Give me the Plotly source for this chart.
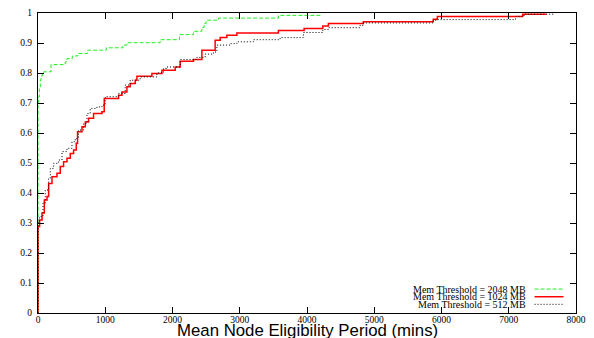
import plotly.graph_objects as go

# Mem Threshold = 2048 MB (CDF step points)
x_2048 = [0, 0, 10, 20, 34, 45, 64, 84, 193, 405, 430, 510, 594, 737, 1015, 1262, 1322,
          1817, 2104, 2312, 2437, 2470, 2500, 2684, 3575, 4220]
y_2048 = [0, 0.70, 0.72, 0.75, 0.776, 0.79, 0.80, 0.804, 0.828, 0.837, 0.848, 0.857, 0.865,
          0.876, 0.884, 0.893, 0.901, 0.911, 0.928, 0.939, 0.952, 0.965, 0.976, 0.983, 0.992, 0.993]

# Mem Threshold = 1024 MB
x_1024 = [0, 0, 24, 60, 94, 134, 158, 208, 282, 331, 380, 431, 480, 529, 569, 588, 654, 703,
          752, 826, 951, 985, 1198, 1248, 1322, 1371, 1446, 1471, 1694, 1843, 2040, 2114, 2312,
          2437, 2634, 2709, 2808, 2957, 3575, 3957, 4235, 4318, 4838, 5878, 5938, 7207, 7560]
y_1024 = [0, 0.288, 0.31, 0.333, 0.377, 0.388, 0.432, 0.454, 0.466, 0.488, 0.504, 0.516, 0.532,
          0.543, 0.566, 0.604, 0.621, 0.637, 0.649, 0.665, 0.671, 0.715, 0.726, 0.737, 0.754,
          0.765, 0.776, 0.789, 0.798, 0.809, 0.820, 0.839, 0.845, 0.876, 0.909, 0.918, 0.926,
          0.933, 0.942, 0.948, 0.957, 0.965, 0.971, 0.979, 0.988, 0.996, 0.996]

# Mem Threshold = 512 MB
x_512 = [0, 0, 20, 74, 108, 158, 183, 232, 306, 357, 431, 505, 554, 603, 678, 728, 777, 877,
         951, 1000, 1198, 1297, 1371, 1520, 1768, 1866, 1916, 2114, 2362, 2486, 2609, 2660,
         2857, 2957, 3204, 3600, 3947, 4235, 4318, 4790, 4838, 5878, 5950, 7100, 7227, 7670]
y_512 = [0, 0.30, 0.321, 0.366, 0.41, 0.449, 0.482, 0.499, 0.510, 0.538, 0.549, 0.571, 0.582,
         0.610, 0.632, 0.665, 0.682, 0.687, 0.693, 0.721, 0.732, 0.760, 0.776, 0.787, 0.800,
         0.815, 0.820, 0.845, 0.852, 0.863, 0.870, 0.893, 0.898, 0.904, 0.911, 0.918, 0.935,
         0.945, 0.951, 0.959, 0.967, 0.976, 0.978, 0.989, 0.996, 0.996]

series_names = ["Mem Threshold = 2048 MB", "Mem Threshold = 1024 MB", "Mem Threshold = 512 MB"]
x_ticks = [0, 1000, 2000, 3000, 4000, 5000, 6000, 7000, 8000]
y_ticks = [0, 0.1, 0.2, 0.3, 0.4, 0.5, 0.6, 0.7, 0.8, 0.9, 1]
y_ticktext = ["0", "0.1", "0.2", "0.3", "0.4", "0.5", "0.6", "0.7", "0.8", "0.9", "1"]
x_title = "Mean Node Eligibility Period (mins)"

styles = [
    dict(color="#22ee22", width=1, dash="4px,2px"),
    dict(color="#ff0000", width=1.5, dash="solid"),
    dict(color="#000000", width=1, dash="1px,2px"),
]

fig = go.Figure()
for xs, ys, name, st in zip([x_2048, x_1024, x_512], [y_2048, y_1024, y_512], series_names, styles):
    fig.add_trace(go.Scatter(x=xs, y=ys, mode="lines", name=name, line_shape="hv",
                             line=st, showlegend=False))

# the page body has an 8px margin; lay out in page pixels and compensate
OFF = 8
PAGE_W, PAGE_H = 594, 338
W, H = PAGE_W - OFF, PAGE_H - OFF
L, R, T, B = 37.7, 576.5, 12.7, 313.3   # plot area in page pixels
pw, ph = R - L, B - T

def px_x(p):
    return (p - L) / pw

def px_y(p):
    return (B - p) / ph

# legend: text right-aligned, sample to the right (gnuplot style)
leg_y = [289.3, 297.0, 304.6]
for name, st, yy in zip(series_names, styles, leg_y):
    fig.add_annotation(x=px_x(528.5), y=px_y(yy), xref="paper", yref="paper", text=name,
                       showarrow=False, xanchor="right", yanchor="middle",
                       font=dict(family="Liberation Serif", size=10, color="black"))
    fig.add_shape(type="line", xref="paper", yref="paper", x0=px_x(535), x1=px_x(564),
                  y0=px_y(yy), y1=px_y(yy), line=st)

fig.add_annotation(x=0.5, y=px_y(330.5), xref="paper", yref="paper", text=x_title,
                   showarrow=False, xanchor="center", yanchor="middle",
                   font=dict(family="Liberation Sans", size=16.8, color="black"))

axis_common = dict(showline=True, linecolor="black", linewidth=1.2, mirror="ticks",
                   ticks="inside", ticklen=6, tickcolor="black", tickwidth=1,
                   showgrid=False, zeroline=False, automargin=False,
                   tickfont=dict(family="Liberation Serif", size=9.5, color="black"))

fig.update_layout(
    width=W, height=H,
    margin=dict(l=L - OFF, r=PAGE_W - R, t=T - OFF, b=PAGE_H - B, pad=0, autoexpand=False),
    paper_bgcolor="white", plot_bgcolor="white",
    xaxis=dict(range=[0, 8000], tickvals=x_ticks, ticktext=[str(v) for v in x_ticks],
               ticklabelstandoff=-3, **axis_common),
    yaxis=dict(range=[0, 1], tickvals=y_ticks, ticktext=y_ticktext,
               ticklabelstandoff=3, **axis_common),
)

fig.write_html("out.html")
